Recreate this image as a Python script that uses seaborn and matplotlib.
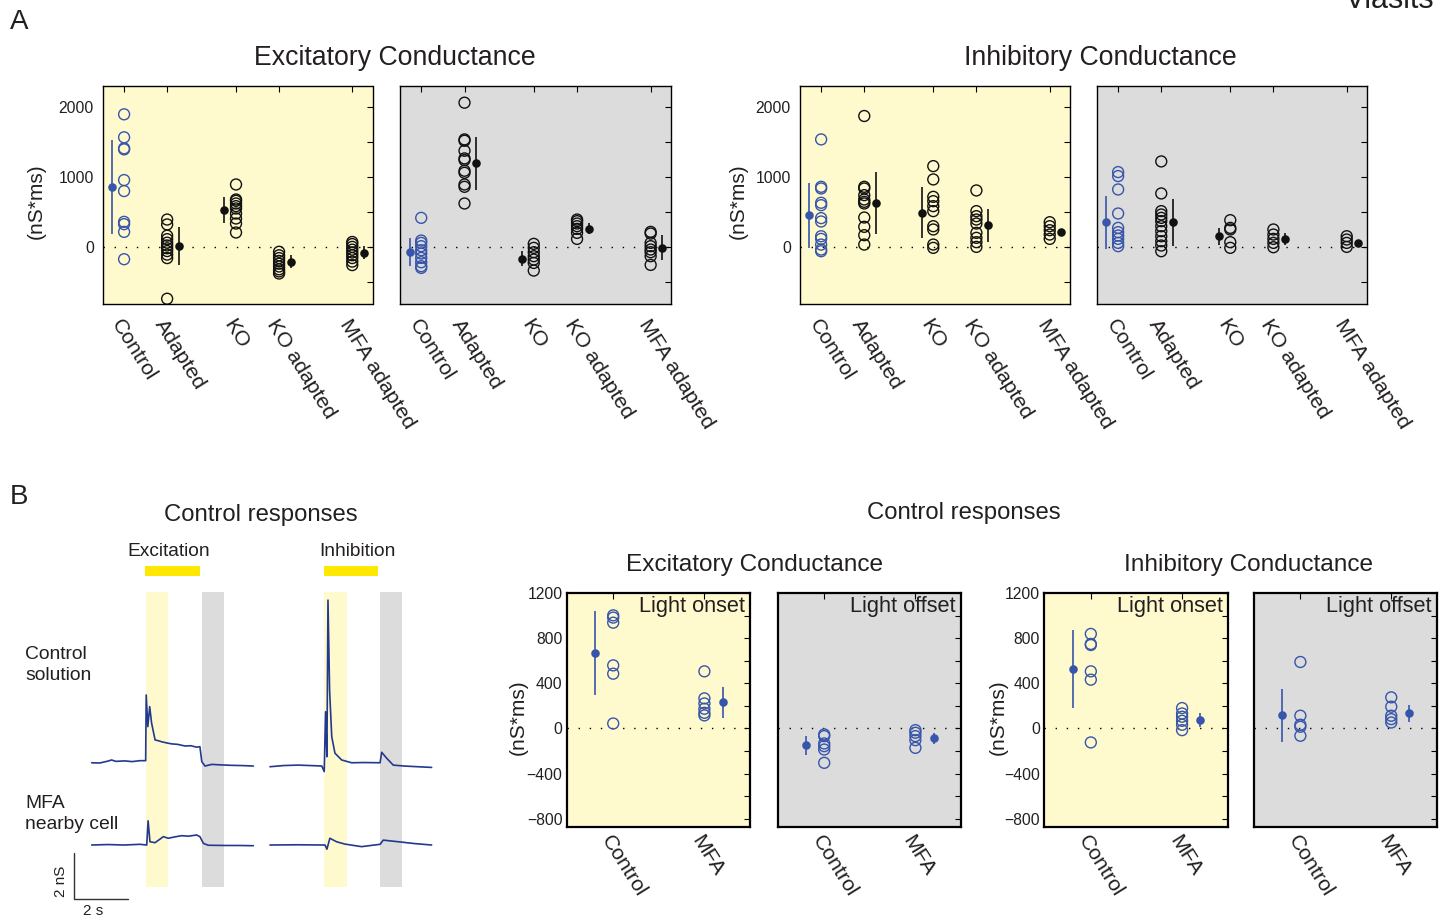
import matplotlib
matplotlib.use('Agg')
import matplotlib.pyplot as plt
import seaborn as sns

# ---------------- data: panel A ----------------
groups_a = ['Control', 'Adapted', 'KO', 'KO adapted', 'MFA adapted']

# excitatory conductance, light onset
exc_on_pts = [
    [1891, 1563, 1406, 1391, 953, 796, 357, 324, 214, -176],
    [390, 320, 160, 110, 60, 20, -20, -60, -110, -160, -740],
    [890, 676, 657, 619, 581, 548, 476, 405, 333, 205],
    [-70, -120, -160, -200, -240, -280, -320, -350, -380],
    [70, 40, 0, -40, -80, -120, -160, -210, -260],
]
exc_on_mean = [857, 10, 524, -210, -81]
exc_on_err = [670, 275, 186, 88, 95]

# excitatory conductance, light offset
exc_off_pts = [
    [414, 90, 57, 10, -48, -95, -157, -219, -276, -300],
    [2057, 1533, 1514, 1371, 1262, 1238, 1086, 1057, 890, 857, 619],
    [43, -14, -76, -133, -181, -229, -338],
    [390, 367, 333, 295, 257, 200, 114],
    [214, 190, 57, 10, -38, -76, -133, -257],
]
exc_off_mean = [-71, 1190, -167, 262, -14]
exc_off_err = [202, 376, 107, 72, 178]

# inhibitory conductance, light onset
inh_on_pts = [
    [1533, 857, 833, 629, 595, 410, 362, 152, 114, 33, -38, -62],
    [1867, 857, 833, 738, 676, 643, 619, 419, 286, 167, 33],
    [1152, 962, 714, 652, 581, 510, 295, 248, 33, -14],
    [805, 510, 438, 390, 333, 200, 129, 67, 0],
    [352, 295, 238, 176, 114],
]
inh_on_mean = [448, 629, 486, 305, 210]
inh_on_err = [464, 445, 364, 231, 25]

# inhibitory conductance, light offset
inh_off_pts = [
    [1067, 1010, 819, 476, 271, 210, 162, 114, 57, 10],
    [1219, 762, 510, 462, 414, 367, 295, 224, 152, 81, 19, -62],
    [381, 271, 248, 67, -14],
    [248, 176, 114, 57, -5],
    [152, 105, 57, 0],
]
inh_off_mean = [348, 348, 152, 114, 57]
inh_off_err = [381, 331, 124, 83, 20]

# ---------------- data: panel B ----------------
groups_b = ['Control', 'MFA']
b_exc_on_pts = [[1004, 984, 939, 560, 486, 44], [507, 267, 222, 175, 139, 116]]
b_exc_on_mean = [667, 234]
b_exc_on_err = [372, 138]
b_exc_off_pts = [[-53, -68, -133, -157, -187, -305], [-15, -38, -68, -104, -172]]
b_exc_off_mean = [-148, -86]
b_exc_off_err = [85, 48]
b_inh_on_pts = [[839, 750, 741, 507, 433, -124], [181, 133, 104, 68, 33, -15]]
b_inh_on_mean = [527, 74]
b_inh_on_err = [348, 64]
b_inh_off_pts = [[590, 113, 33, 15, -65], [276, 193, 113, 83, 53]]
b_inh_off_mean = [116, 133]
b_inh_off_err = [237, 79]

# example traces (time in s, conductance in nS)
exc_ctrl_t = [0, 0.3, 0.6, 0.74, 0.9, 1.24, 1.5, 1.8, 2.01, 2.03, 2.09, 2.16, 2.23, 2.36,
              2.5, 2.61, 2.8, 2.98, 3.2, 3.47, 3.7, 3.9, 4.03, 4.10, 4.22, 4.47, 4.8, 5.2, 5.6, 6.02]
exc_ctrl_g = [0.01, 0.0, 0.08, 0.13, 0.07, 0.09, 0.06, 0.1, 0.10, 2.92, 1.56, 2.42, 1.72, 0.99,
              0.95, 0.91, 0.86, 0.82, 0.80, 0.73, 0.74, 0.68, 0.70, 0.06, -0.13, -0.06, -0.08, -0.10, -0.11, -0.13]
exc_mfa_t = [0, 0.6, 1.2, 1.8, 2.05, 2.10, 2.17, 2.36, 2.67, 2.85, 3.1, 3.35, 3.6, 3.91, 4.03,
             4.16, 4.34, 5.0, 5.5, 6.02]
exc_mfa_g = [0, 0.02, 0.0, 0.03, 0.0, 1.04, 0.14, 0.10, 0.36, 0.29, 0.35, 0.40, 0.38, 0.43, 0.36,
             0.07, -0.01, -0.02, -0.02, -0.03]
inh_ctrl_t = [0, 0.5, 1.05, 1.5, 1.93, 2.02, 2.07, 2.12, 2.16, 2.22, 2.30, 2.42, 2.67, 3.04, 3.5,
              4.10, 4.16, 4.35, 4.59, 5.0, 5.5, 6.02]
inh_ctrl_g = [-0.03, 0.02, 0.04, 0.02, 0, -0.24, 2.33, 0.40, 7.12, 3.26, 1.26, 0.55, 0.26, 0.14, 0.15,
              0.14, 0.59, 0.33, 0.04, 0.0, -0.03, -0.06]
inh_mfa_t = [0, 1.0, 2.05, 2.12, 2.23, 2.48, 2.79, 3.41, 4.10, 4.22, 4.78, 5.4, 6.02]
inh_mfa_g = [0, 0.01, 0, -0.18, 0.29, 0.14, 0.04, -0.07, 0.03, 0.21, 0.14, 0.06, 0]
light_on = (2.0, 4.04)
onset_win = (2.03, 2.86)
offset_win = (4.10, 4.92)

# ---------------- style ----------------
sns.set_theme(style='white')
plt.rcParams['font.family'] = ['Liberation Sans', 'DejaVu Sans']
plt.rcParams['text.color'] = '#231f20'
plt.rcParams['axes.unicode_minus'] = True

BLUE = '#3755aa'
BLACK = '#111111'
TRACE = '#22398f'
YEL = '#fffacd'
GREY = '#dcdcdc'
BAR = '#ffe800'
TXT = '#231f20'

W, H = 1439, 919
fig = plt.figure(figsize=(W / 100, H / 100), dpi=100)


def px_axes(l, t, r, b):
    return fig.add_axes([l / W, 1 - b / H, (r - l) / W, (b - t) / H])


def ftext(x, y, s, **kw):
    fig.text(x / W, 1 - y / H, s, **kw)


def dot_panel(ax, xs, pts, means, errs, sides, colors, offset, bg, ylim, lw_spine):
    ax.set_facecolor(bg)
    ax.axhline(0, color='black', lw=1.0, ls=(0, (1, 7)), zorder=1)
    for x, p, m, e, sd, c in zip(xs, pts, means, errs, sides, colors):
        sns.scatterplot(x=[x] * len(p), y=p, ax=ax, s=62, marker='o', facecolor='none',
                        edgecolor=c, linewidth=1.0, legend=False, zorder=3)
        mx = x + sd * offset
        ax.vlines(mx, m - e, m + e, color=c, lw=1.2, zorder=3)
        sns.scatterplot(x=[mx], y=[m], ax=ax, s=38, color=c, edgecolor=c, linewidth=0,
                        legend=False, zorder=4)
    ax.set_ylim(*ylim)
    ax.set_xlabel('')
    ax.set_ylabel('')
    for s in ax.spines.values():
        s.set_visible(True)
        s.set_color('black')
        s.set_linewidth(lw_spine)
    ax.tick_params(which='both', direction='in', top=True, right=True, length=4,
                   width=0.8, colors='black', labelcolor=TXT, labelsize=11.3)


# ---------------- panel A ----------------
xpos_a = [1, 2, 3.6, 4.6, 6.3]
side_a = [-1, 1, -1, 1, 1]
col_a = [BLUE, BLACK, BLACK, BLACK, BLACK]
ylim_a = (-815, 2295)

a_axes = []
for (l, r), pts, mn, er, bg in [
        ((103, 372.5), exc_on_pts, exc_on_mean, exc_on_err, YEL),
        ((400, 671), exc_off_pts, exc_off_mean, exc_off_err, GREY),
        ((800, 1070), inh_on_pts, inh_on_mean, inh_on_err, YEL),
        ((1097, 1367), inh_off_pts, inh_off_mean, inh_off_err, GREY)]:
    ax = px_axes(l, 86, r, 304)
    dot_panel(ax, xpos_a, pts, mn, er, side_a, col_a, 0.27, bg, ylim_a, 1.0)
    ax.set_xlim(0.51, 6.77)
    ax.set_yticks([0, 1000, 2000])
    ax.set_yticks([-500, 500, 1500], minor=True)
    ax.set_xticks(xpos_a)
    ax.set_xticklabels(groups_a, rotation=-58, ha='left', va='top',
                       rotation_mode='anchor', fontsize=15.3)
    ax.tick_params(axis='x', pad=8.5)
    ax.tick_params(axis='y', pad=6.5)
    a_axes.append(ax)

for ax in (a_axes[1], a_axes[3]):
    ax.set_yticklabels([])

ftext(36, 201, '(nS*ms)', rotation=90, ha='center', va='center', fontsize=15)
ftext(738, 201, '(nS*ms)', rotation=90, ha='center', va='center', fontsize=15)
ftext(395, 58, 'Excitatory Conductance', ha='center', va='center', fontsize=19.2)
ftext(1100, 58, 'Inhibitory Conductance', ha='center', va='center', fontsize=19.2)
ftext(10, 22, 'A', ha='left', va='center', fontsize=20)
ftext(10, 497, 'B', ha='left', va='center', fontsize=20)
ftext(1345, 8, 'Vlasits', ha='left', va='baseline', fontsize=22)

# ---------------- panel B: dot plots ----------------
xpos_b = [1, 2]
side_b = [-1, 1]
col_b = [BLUE, BLUE]
ylim_b = (-872, 1205)

b_axes = []
for (l, r), pts, mn, er, bg, lab in [
        ((566.7, 750), b_exc_on_pts, b_exc_on_mean, b_exc_on_err, YEL, 'Light onset'),
        ((777.7, 961), b_exc_off_pts, b_exc_off_mean, b_exc_off_err, GREY, 'Light offset'),
        ((1044.3, 1227.7), b_inh_on_pts, b_inh_on_mean, b_inh_on_err, YEL, 'Light onset'),
        ((1254, 1436.7), b_inh_off_pts, b_inh_off_mean, b_inh_off_err, GREY, 'Light offset')]:
    ax = px_axes(l, 592.7, r, 826.7)
    dot_panel(ax, xpos_b, pts, mn, er, side_b, col_b, 0.2, bg, ylim_b, 1.6)
    ax.set_xlim(0.49, 2.5)
    ax.set_yticks([-800, -400, 0, 400, 800, 1200])
    ax.set_yticks([-600, -200, 200, 600, 1000], minor=True)
    ax.set_xticks(xpos_b)
    ax.set_xticklabels(groups_b, rotation=-58, ha='left', va='top',
                       rotation_mode='anchor', fontsize=15.3)
    ax.tick_params(axis='x', pad=3.5)
    ax.tick_params(axis='y', pad=3)
    ax.text(0.972, 0.985, lab, transform=ax.transAxes, ha='right', va='top', fontsize=15.7)
    b_axes.append(ax)

for ax in (b_axes[1], b_axes[3]):
    ax.set_yticklabels([])

ftext(518, 717, '(nS*ms)', rotation=90, ha='center', va='center', fontsize=15)
ftext(998, 717, '(nS*ms)', rotation=90, ha='center', va='center', fontsize=15)
ftext(964, 513, 'Control responses', ha='center', va='center', fontsize=17.2)
ftext(754, 565, 'Excitatory Conductance', ha='center', va='center', fontsize=17.6)
ftext(1248, 565, 'Inhibitory Conductance', ha='center', va='center', fontsize=17.6)

# ---------------- panel B: example traces ----------------
tx = px_axes(60, 540, 440, 915)
tx.set_xlim((60 - 91.7) / 26.85, (440 - 91.7) / 26.85)
tx.set_ylim((763 - 915) / 23.3, (763 - 540) / 23.3)
tx.axis('off')

inh_shift = 6.64
mfa_base = -3.52
for t0 in (0, inh_shift):
    tx.fill_between([t0 + onset_win[0], t0 + onset_win[1]], -5.32, 7.34, color=YEL, lw=0, zorder=0)
    tx.fill_between([t0 + offset_win[0], t0 + offset_win[1]], -5.32, 7.34, color=GREY, lw=0, zorder=0)
    tx.fill_between([t0 + light_on[0], t0 + light_on[1]], 8.04, 8.47, color=BAR, lw=0, zorder=0)

for t, g, dt, base in [(exc_ctrl_t, exc_ctrl_g, 0, 0),
                       (exc_mfa_t, exc_mfa_g, 0, mfa_base),
                       (inh_ctrl_t, inh_ctrl_g, inh_shift, -0.13),
                       (inh_mfa_t, inh_mfa_g, inh_shift, mfa_base)]:
    sns.lineplot(x=[v + dt for v in t], y=[v + base for v in g], ax=tx, color=TRACE,
                 lw=1.2, sort=False, estimator=None, zorder=2)

# scale bar
tx.plot([-0.66, -0.66, 1.34], [-3.85, -5.85, -5.85], color='#333333', lw=1.0)
tx.set_xlabel('')
tx.set_ylabel('')

ftext(61.5, 881, '2 nS', rotation=90, ha='center', va='center', fontsize=11)
ftext(93, 911, '2 s', ha='center', va='center', fontsize=11)
ftext(261, 515, 'Control responses', ha='center', va='center', fontsize=17.2)
ftext(169, 551, 'Excitation', ha='center', va='center', fontsize=13.8)
ftext(357, 551, 'Inhibition', ha='center', va='center', fontsize=13.8)
ftext(25, 665, 'Control\nsolution', ha='left', va='center', fontsize=13.9, linespacing=1.35)
ftext(25, 814, 'MFA\nnearby cell', ha='left', va='center', fontsize=13.9, linespacing=1.35)

fig.savefig('out.png', dpi=100)
